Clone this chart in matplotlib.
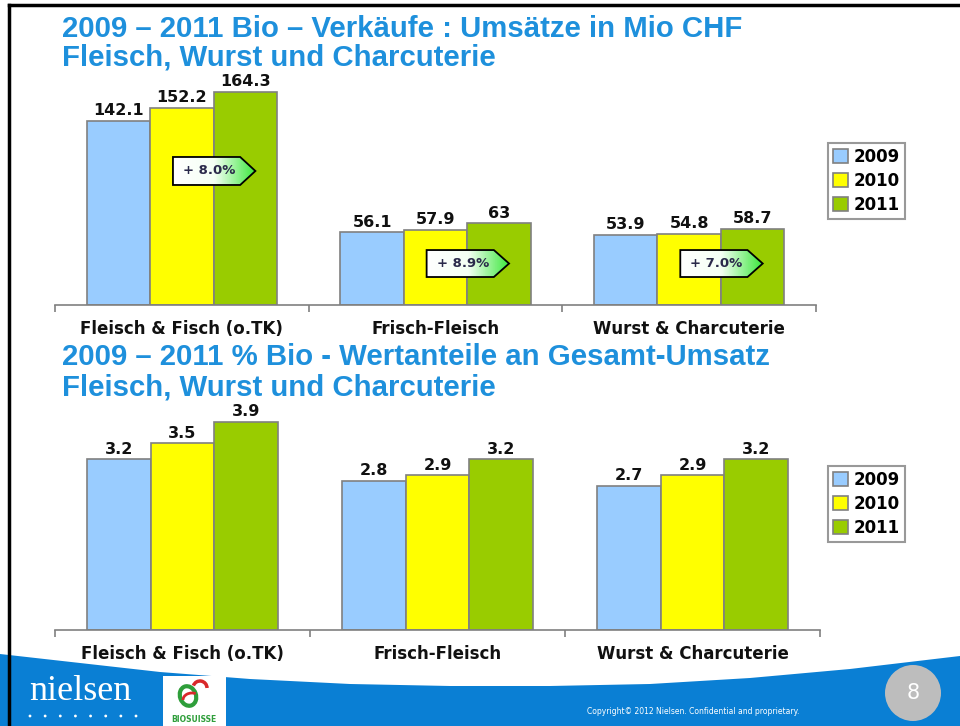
import matplotlib
matplotlib.use("Agg")
import matplotlib.pyplot as plt
import numpy as np
from matplotlib.patches import Polygon, Rectangle, Circle, Ellipse, Arc
from matplotlib.colors import LinearSegmentedColormap

# ---------------- data ----------------
categories = ["Fleisch & Fisch (o.TK)", "Frisch-Fleisch", "Wurst & Charcuterie"]
years = ["2009", "2010", "2011"]
sales_2009 = [142.1, 56.1, 53.9]
sales_2010 = [152.2, 57.9, 54.8]
sales_2011 = [164.3, 63.0, 58.7]
sales_labels_2011 = ["164.3", "63", "58.7"]
share_2009 = [3.2, 2.8, 2.7]
share_2010 = [3.5, 2.9, 2.9]
share_2011 = [3.9, 3.2, 3.2]
growth = ["+ 8.0%", "+ 8.9%", "+ 7.0%"]

title1 = ["2009 \u2013 2011 Bio \u2013 Verk\u00e4ufe : Ums\u00e4tze in Mio CHF",
          "Fleisch, Wurst und Charcuterie"]
title2 = ["2009 \u2013 2011 % Bio - Wertanteile an Gesamt-Umsatz",
          "Fleisch, Wurst und Charcuterie"]

colors = ["#99CCFF", "#FFFF00", "#99CC00"]
edge = "#808080"
title_color = "#1E90DC"
footer_blue = "#0A7FD4"

W, H = 960, 726
fig = plt.figure(figsize=(W / 100, H / 100), dpi=100)
fig.patch.set_facecolor("white")

# ------------- background axes (pixel coordinates) -------------
bg = fig.add_axes([0, 0, 1, 1], zorder=0)
bg.set_xlim(0, W)
bg.set_ylim(H, 0)
bg.axis("off")

# footer band
xs = np.array([0, 80, 160, 250, 350, 450, 550, 650, 750, 850, 960])
ys = np.array([654, 663, 672, 679, 684, 686, 686, 684, 678, 669, 656])
poly = list(zip(xs, ys)) + [(W, H), (0, H)]
bg.add_patch(Polygon(poly, closed=True, facecolor=footer_blue, edgecolor="none"))
# white logo box
bg.add_patch(Rectangle((163, 676), 63, 50, facecolor="white", edgecolor="none"))
bg.text(80, 691, "nielsen", color="white", fontsize=26, family="Liberation Serif",
        ha="center", va="center")
for dx in np.linspace(30, 136, 8):
    bg.add_patch(Circle((dx, 716), 1.4, facecolor="white", edgecolor="none"))
bg.add_patch(Ellipse((188, 696), 16, 20, angle=-20, facecolor="none",
                     edgecolor="#2E9E3A", linewidth=3))
bg.add_patch(Arc((200, 688), 14, 14, theta1=200, theta2=360, color="#D9282A", linewidth=2.5))
bg.add_patch(Arc((192, 700), 18, 14, theta1=180, theta2=300, color="#D9282A", linewidth=2))
bg.text(194, 719, "BIOSUISSE", color="#2E9E3A", fontsize=5.5, fontweight="bold",
        ha="center", va="center")
bg.text(693, 711, "Copyright\u00a9 2012 Nielsen. Confidential and proprietary.",
        color="white", fontsize=5.5, ha="center", va="center")
bg.add_patch(Circle((913, 693), 28, facecolor="#BDBDBD", edgecolor="none"))
bg.text(913, 693, "8", color="white", fontsize=15, ha="center", va="center")

# slide border
bg.plot([9, 9], [5, H], color="black", linewidth=2.5)
bg.plot([9, W], [5, 5], color="black", linewidth=2.5)

# titles
for i, t in enumerate(title1):
    bg.text(62, 29 + 29 * i, t, color=title_color, fontsize=21.2, fontweight="bold",
            family="Liberation Sans", ha="left", va="center")
for i, t in enumerate(title2):
    bg.text(62, 357 + 30 * i, t, color=title_color, fontsize=21.2, fontweight="bold",
            family="Liberation Sans", ha="left", va="center")

green_cmap = LinearSegmentedColormap.from_list("g", ["#FFFFFF", "#F4FFF4", "#3CE83C"])


def bar_panel(rect, series, labels, ymax, callouts=None, legend_rect=None):
    ax = fig.add_axes(rect, zorder=2)
    ax.set_facecolor("none")
    x = np.arange(len(categories))
    bw = 0.25
    for k, (vals, col) in enumerate(zip(series, colors)):
        bars = ax.bar(x + (k - 1) * bw, vals, bw, color=col, edgecolor=edge,
                      linewidth=1.2, label=years[k], zorder=2)
        for b, lab in zip(bars, labels[k]):
            ax.annotate(lab, (b.get_x() + b.get_width() / 2, b.get_height()),
                        xytext=(0, 2), textcoords="offset points", ha="center",
                        va="bottom", fontsize=11.5, fontweight="bold",
                        family="DejaVu Sans", color="#111111")
    ax.set_xlim(-0.5, len(categories) - 0.5)
    ax.set_ylim(0, ymax)
    for s in ["top", "right", "left"]:
        ax.spines[s].set_visible(False)
    ax.spines["bottom"].set_color(edge)
    ax.spines["bottom"].set_linewidth(1.2)
    ax.set_yticks([])
    ax.set_xticks(np.arange(-0.5, len(categories)), labels=[""] * (len(categories) + 1))
    ax.tick_params(axis="x", which="major", length=5, color=edge, width=1.2)
    ax.set_xticks(x, labels=categories, minor=True)
    ax.tick_params(axis="x", which="minor", length=0, pad=11, labelsize=12)
    for t in ax.get_xticklabels(minor=True):
        t.set_fontweight("bold")
        t.set_family("DejaVu Sans")
        t.set_color("#111111")

    if callouts is not None:
        for ci, (txt, (y0, y1)) in enumerate(callouts):
            xa = ci - 0.035
            xr = ci + 0.23
            xt = ci + 0.29
            verts = [(xa, y0), (xr, y0), (xt, (y0 + y1) / 2), (xr, y1), (xa, y1)]
            p = Polygon(verts, closed=True, facecolor="none", edgecolor="black",
                        linewidth=1.3, zorder=5)
            ax.add_patch(p)
            grad = np.linspace(0, 1, 100).reshape(1, -1)
            im = ax.imshow(grad, extent=[xa, xt, y0, y1], aspect="auto",
                           cmap=green_cmap, zorder=4)
            im.set_clip_path(p)
            ax.text((xa + xr) / 2 + 0.01, (y0 + y1) / 2, txt, ha="center", va="center",
                    fontsize=9.5, fontweight="bold", color="#2A2A4A", zorder=6)
        ax.set_xlim(-0.5, len(categories) - 0.5)
        ax.set_ylim(0, ymax)

    leg = ax.legend(loc="upper left", bbox_to_anchor=legend_rect,
                    bbox_transform=fig.transFigure, frameon=True, fancybox=False,
                    handlelength=0.9, handleheight=0.9, handletextpad=0.35,
                    borderpad=0.3, labelspacing=0.35, borderaxespad=0,
                    prop={"weight": "bold", "size": 12, "family": "DejaVu Sans"})
    leg.get_frame().set_edgecolor("#808080")
    leg.get_frame().set_linewidth(1.5)
    return ax


def fx(px):
    return px / W


def fy(py):
    return 1 - py / H


# top panel
top_labels = [[f"{v:.1f}" for v in sales_2009], [f"{v:.1f}" for v in sales_2010], sales_labels_2011]
ax1 = bar_panel([fx(55), fy(305), fx(816 - 55), (305 - 80) / H],
                [sales_2009, sales_2010, sales_2011], top_labels, 173.6,
                callouts=list(zip(growth, [(92.6, 114.2), (21.6, 42.4), (21.6, 42.4)])),
                legend_rect=(fx(828), fy(143)))

# bottom panel
bot_labels = [[f"{v:.1f}" for v in share_2009], [f"{v:.1f}" for v in share_2010],
              [f"{v:.1f}" for v in share_2011]]
ax2 = bar_panel([fx(55), fy(630), fx(820 - 55), (630 - 405) / H],
                [share_2009, share_2010, share_2011], bot_labels, 4.22,
                legend_rect=(fx(828), fy(466)))

fig.savefig("out.png", dpi=100)
